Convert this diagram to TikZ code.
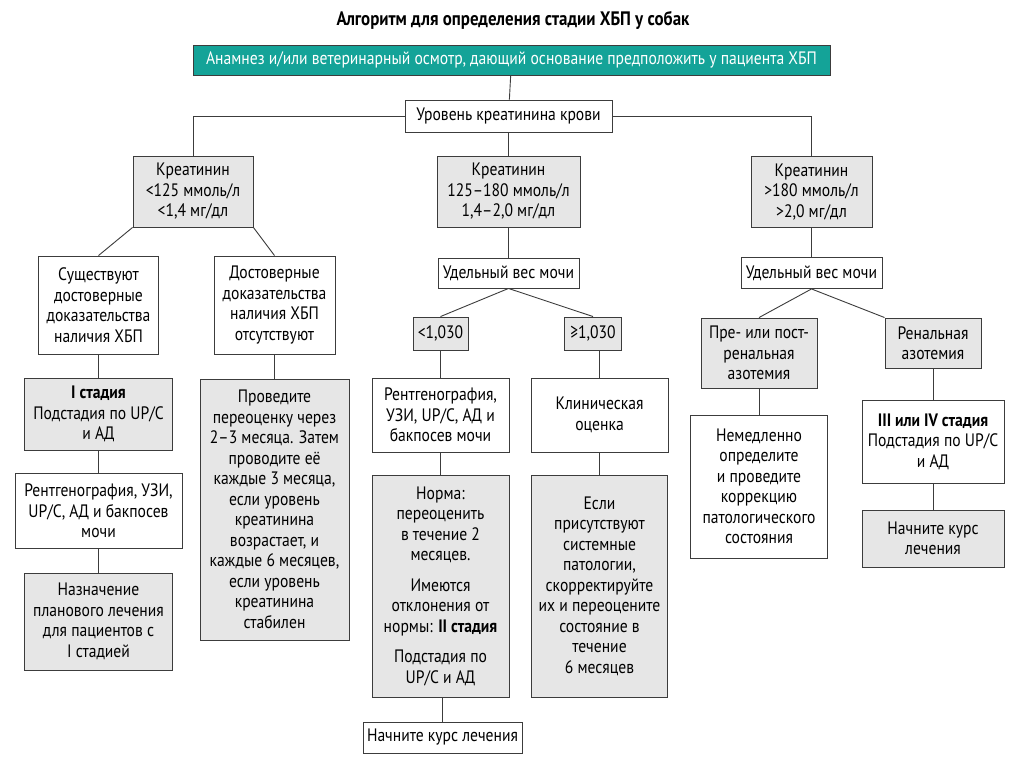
\documentclass[tikz,border=0pt]{standalone}
\usepackage{fontspec}
\setmainfont{PT Sans}[FakeStretch=0.867]
\usetikzlibrary{positioning}
\definecolor{ckdteal}{RGB}{20,163,152}
\definecolor{boxgray}{RGB}{230,230,230}
\definecolor{linegray}{RGB}{60,60,60}
\tikzset{
  basic/.style  = {draw=linegray, line width=0.9pt, align=center, inner sep=2pt,
                   font=\fontsize{18}{20.5}\selectfont},
  head/.style   = {basic, fill=ckdteal, text=white},
  plain/.style  = {basic, fill=white},
  shaded/.style = {basic, fill=boxgray},
  link/.style   = {draw=linegray, line width=0.9pt}
}

\begin{document}
\begin{tikzpicture}[x=1pt, y=-1pt]
\useasboundingbox[fill=white] (0,0) rectangle (1024,767);

% titulo y raiz
\node[font=\fontsize{19.5}{22}\selectfont\bfseries] (title) at (513,20)
  {Алгоритм для определения стадии ХБП у собак};
\node[head, minimum width=637, minimum height=30] (top) at (511.5,60)
  {Анамнез и/или ветеринарный осмотр, дающий основание предположить у пациента ХБП};
\node[plain, minimum width=207, minimum height=32] (lvl) at (508.5,116)
  {Уровень креатинина крови};

% The first level: creatinine ranges
\node[shaded, minimum width=120, minimum height=71] (k1) at (193,191.5)
  {Креатинин\\ <125 ммоль/л\\ <1,4 мг/дл};
\node[shaded, minimum width=143, minimum height=71] (k2) at (508.5,191.5)
  {Креатинин\\ 125–180 ммоль/л\\ 1,4–2,0 мг/дл};
\node[shaded, minimum width=121, minimum height=71] (k3) at (811.5,192)
  {Креатинин\\ >180 ммоль/л\\ >2,0 мг/дл};

% Left branch
\node[plain, minimum width=120, minimum height=98] (k11) at (98.5,305)
  {Существуют\\ достоверные\\ доказательства\\ наличия ХБП};
\node[plain, minimum width=121, minimum height=98] (k12) at (274.5,305)
  {Достоверные\\ доказательства\\ наличия ХБП\\ отсутствуют};
\node[shaded, minimum width=148, minimum height=72] (k111) at (98.5,414)
  {\textbf{I стадия}\\ Подстадия по UP/C\\ и АД};
\node[plain, minimum width=167, minimum height=75] (k112) at (98.5,511)
  {Рентгенография, УЗИ,\\ UP/C, АД и бакпосев\\ мочи};
\node[shaded, minimum width=148, minimum height=97] (k113) at (98.5,621.5)
  {Назначение\\ планового лечения\\ для пациентов с\\ I стадией};
\node[shaded, minimum width=149, minimum height=261] (k121) at (274.5,509.5)
  {Проведите\\ переоценку через\\ 2–3 месяца. Затем\\ проводите её\\ каждые 3 месяца,\\
   если уровень\\ креатинина\\ возрастает, и\\ каждые 6 месяцев,\\ если уровень\\
   креатинина\\ стабилен};

% Middle branch
\node[plain, minimum width=141, minimum height=30] (k21) at (508.5,273)
  {Удельный вес мочи};
\node[shaded, minimum width=55, minimum height=33] (k211) at (440.5,333.5) {<1,030};
\node[shaded, minimum width=57, minimum height=33] (k212) at (593,333.5) {≥1,030};
\node[plain, minimum width=137, minimum height=74] (k2111) at (440.5,415)
  {Рентгенография,\\ УЗИ, UP/C, АД и\\ бакпосев мочи};
\node[plain, minimum width=137, minimum height=74] (k2121) at (599.5,415)
  {Клиническая\\ оценка};
\node[shaded, minimum width=137, minimum height=222] (k2112) at (440.5,586)
  {Норма:\\ переоценить\\ в течение 2\\ месяцев.\\[10pt] Имеются\\ отклонения от\\
   нормы: \textbf{II стадия}\\[10pt] Подстадия по\\ UP/C и АД};
\node[shaded, minimum width=136, minimum height=222] (k2122) at (599.5,586)
  {Если\\ присутствуют\\ системные\\ патологии,\\ скорректируйте\\ их и переоцените\\
   состояние в\\ течение\\ 6 месяцев};
\node[plain, minimum width=159, minimum height=31] (k2113) at (442.5,737.5)
  {Начните курс лечения};

% Right branch
\node[plain, minimum width=141, minimum height=31] (k31) at (811.5,273)
  {Удельный вес мочи};
\node[shaded, minimum width=116, minimum height=70] (k311) at (759,353)
  {Пре- или пост-\\ ренальная\\ азотемия};
\node[shaded, minimum width=96, minimum height=50] (k312) at (933,343)
  {Ренальная\\ азотемия};
\node[plain, minimum width=137, minimum height=143] (k3111) at (759,486.5)
  {Немедленно\\ определите\\ и проведите\\ коррекцию\\ патологического\\ состояния};
\node[plain, minimum width=142, minimum height=83] (k3121) at (933,441.5)
  {\textbf{III или IV стадия}\\ Подстадия по UP/C\\ и АД};
\node[shaded, minimum width=142, minimum height=57] (k3122) at (933,538.5)
  {Начните курс\\ лечения};

% connectors
\draw[link] (lvl.west) -| (k1.north);
\draw[link] (lvl.east) -| (k3.north);
\foreach \a/\b in {top/lvl, lvl/k2, k2/k21, k3/k31,
                   k11/k111, k111/k112, k112/k113, k12/k121,
                   k211/k2111, k2111/k2112, k2121/k2122,
                   k311/k3111, k312/k3121, k3121/k3122}
  \draw[link] (\a) -- (\b);
\draw[link] (k2112.south -| k2113.north) -- (k2113.north);
\draw[link] (k212.south -| k2121.north) -- (k2121.north);
\draw[link] (k1.south west) -- (k11.north);
\draw[link] (k1.south east) -- (k12.north);
\draw[link] (k21.south) -- (k211.north);
\draw[link] (k21.south) -- (k212.north);
\draw[link] (k31.south) -- (k311.north);
\draw[link] (k31.south) -- (k312.north west);
\end{tikzpicture}
\end{document}
